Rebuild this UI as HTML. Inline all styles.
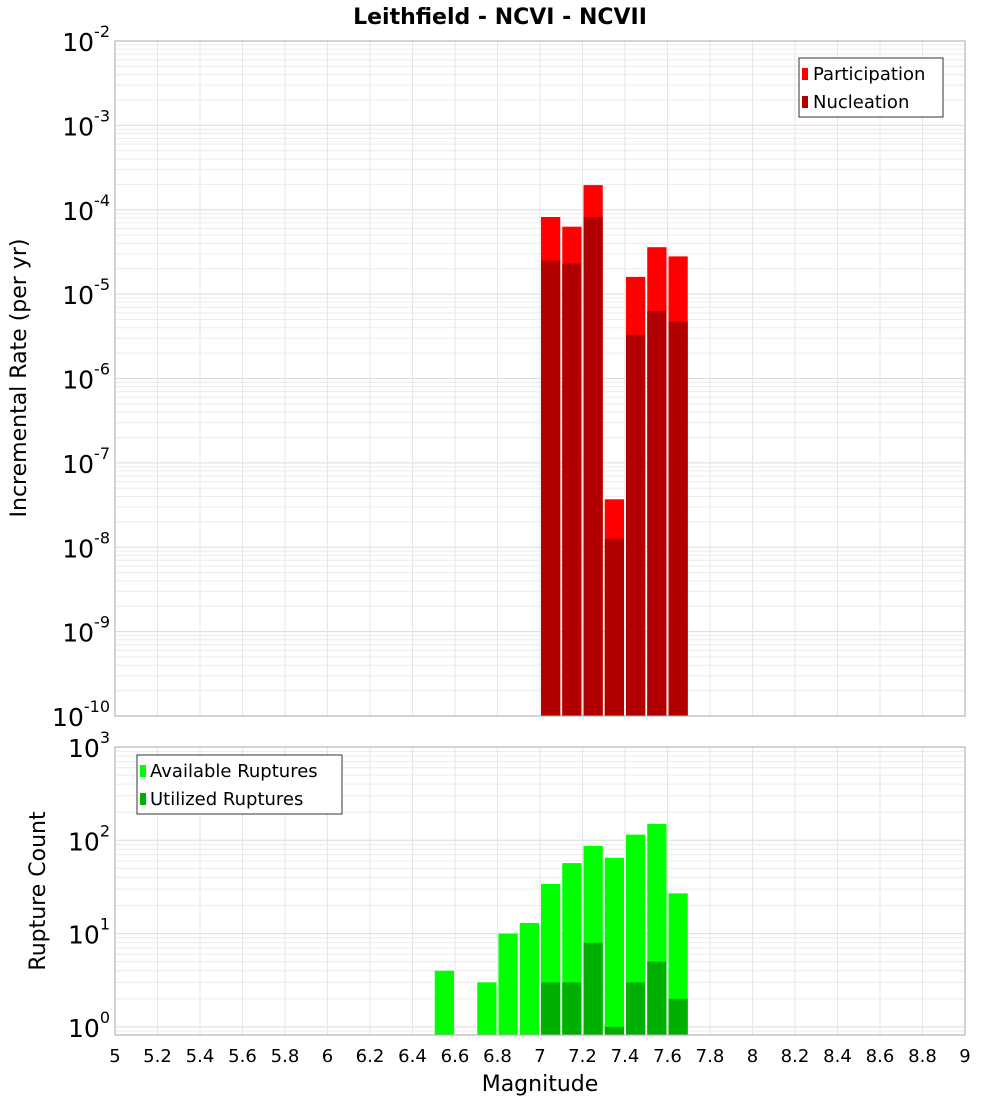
<!DOCTYPE html>
<html><head><meta charset="utf-8"><style>
body{margin:0;background:#fff;font-family:"DejaVu Sans","Liberation Sans",sans-serif;}
</style></head><body>
<svg id="c" width="1000" height="1100" xmlns="http://www.w3.org/2000/svg">
<text x="500" y="24" text-anchor="middle" font-size="22" font-weight="bold">Leithfield - NCVI - NCVII</text>
</svg>
<script>
const mags=[6.5,6.6,6.7,6.8,6.9,7.0,7.1,7.2,7.3,7.4,7.5,7.6];
const participation=[0,0,0,0,0,8.2e-5,6.3e-5,1.96e-4,3.7e-8,1.6e-5,3.6e-5,2.8e-5];
const nucleation=[0,0,0,0,0,2.5e-5,2.3e-5,8.2e-5,1.26e-8,3.3e-6,6.3e-6,4.7e-6];
const available=[4,0,3,10,13,34,57,87,65,115,150,27];
const utilized=[0,0,0,0,0,3,3,8,1,3,5,2];
const xTicks=[5,5.2,5.4,5.6,5.8,6,6.2,6.4,6.6,6.8,7,7.2,7.4,7.6,7.8,8,8.2,8.4,8.6,8.8,9];
const topExps=[-10,-9,-8,-7,-6,-5,-4,-3,-2];
const botExps=[0,1,2,3];
const NS="http://www.w3.org/2000/svg",svg=document.getElementById('c');
const X0=115,X1=965;
const xs=m=>X0+(m-5)/4*(X1-X0);
function el(t,a,p){const e=document.createElementNS(NS,t);for(const k in a)e.setAttribute(k,a[k]);(p||svg).appendChild(e);return e;}
function panel(top,bot,lo,hi,yTop,yPerDec,exps,names){
  const ys=v=>yTop+(hi-Math.log10(v))*yPerDec;
  const g=el('g',{});
  
  
  for(let d=Math.floor(lo);d<hi;d++)for(let k=1;k<10;k++){const y=ys(k*Math.pow(10,d));if(y>top&&y<bot){const l=el('line',{x1:X0,x2:X1,y1:y,y2:y,stroke:k==1?'#dcdcdc':'#ececec','stroke-width':1},g);}}
  xTicks.forEach(t=>{const l=el('line',{x1:xs(t),x2:xs(t),y1:top,y2:bot,stroke:'#e6e6e6'},g);});
  exps.forEach(e=>{const y=ys(Math.pow(10,e));const t=el('text',{x:110,y:y+10,'text-anchor':'end','font-size':25},g);
    t.textContent='10';const s=el('tspan',{dy:-14,'font-size':16},t);s.textContent=String(e);});
  return {g,ys};
}
// top panel
const T=panel(41,716,-10,-2,41,84.375,topExps,'rate');
const bw=(xs(5.1)-xs(5));
mags.forEach((m,i)=>{
  if(participation[i]>0){const y=T.ys(participation[i]);const r=el('rect',{x:xs(m)+1,y:y,width:bw-2,height:716-y,fill:'#ff0000'},T.g);}
  if(nucleation[i]>0){const y=T.ys(nucleation[i]);const r=el('rect',{x:xs(m)+1,y:y,width:bw-2,height:716-y,fill:'#b20000'},T.g);}
});
el('rect',{x:X0,y:41,width:X1-X0,height:675,fill:'none',stroke:'#aaa'},T.g);
// bottom panel
const B=panel(747,1035,-0.1,3,747,93.3,botExps,'count');
mags.forEach((m,i)=>{
  if(available[i]>0){const y=B.ys(available[i]);const r=el('rect',{x:xs(m)+1,y:y,width:bw-2,height:1035-y,fill:'#00ff00'},B.g);}
  if(utilized[i]>0){const y=B.ys(utilized[i]);const r=el('rect',{x:xs(m)+1,y:y,width:bw-2,height:1035-y,fill:'#00b000'},B.g);}
});
el('rect',{x:X0,y:747,width:X1-X0,height:288,fill:'none',stroke:'#aaa'},B.g);
xTicks.forEach(t=>{const e=el('text',{x:xs(t),y:1062,'text-anchor':'middle','font-size':18});e.textContent=String(t);});
</script>
<svg style="position:absolute;left:0;top:0" width="1000" height="1100" xmlns="http://www.w3.org/2000/svg">
<text x="540" y="1091" text-anchor="middle" font-size="22">Magnitude</text>
<text transform="translate(26,378) rotate(-90)" text-anchor="middle" font-size="22">Incremental Rate (per yr)</text>
<text transform="translate(45,891) rotate(-90)" text-anchor="middle" font-size="22">Rupture Count</text>
<g>
<rect x="799" y="58" width="144" height="59" fill="#fff" stroke="#333"/>
<rect x="802" y="68" width="6" height="12" fill="#ff0000"/>
<text x="813" y="80" font-size="18">Participation</text>
<rect x="802" y="96" width="6" height="12" fill="#b20000"/>
<text x="813" y="108" font-size="18">Nucleation</text>
</g>
<g>
<rect x="137" y="755" width="205" height="59" fill="#fff" stroke="#333"/>
<rect x="140" y="765" width="6" height="12" fill="#00ff00"/>
<text x="150" y="777" font-size="18">Available Ruptures</text>
<rect x="140" y="793" width="6" height="12" fill="#00b000"/>
<text x="150" y="805" font-size="18">Utilized Ruptures</text>
</g>
</svg>
</body></html>
